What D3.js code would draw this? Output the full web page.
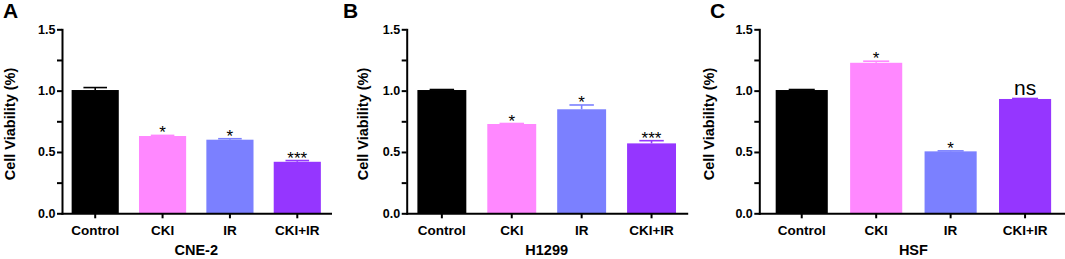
<!DOCTYPE html>
<html>
<head>
<meta charset="utf-8">
<script src="https://cdn.jsdelivr.net/npm/d3@7"></script>
<style>
  body { margin: 0; background: #fff; }
  svg { display: block; font-family: "Liberation Sans", Arial, sans-serif; }
</style>
</head>
<body>
<div id="chart"></div>
<script>
// Cell viability panels (A: CNE-2, B: H1299, C: HSF)

const groups = ["Control", "CKI", "IR", "CKI+IR"];
const barColors = ["#000000", "#ff88ff", "#7b80ff", "#9536ff"];
const yMajorTicks = [0, 0.5, 1.0, 1.5];
const yMinorTicks = [0.25, 0.75, 1.25];

const cneMean = [1.005, 0.63, 0.60, 0.42];
const cneErr = [0.02, 0.005, 0.008, 0.01];
const cneSig = ["", "*", "*", "***"];

const h1299Mean = [1.005, 0.728, 0.848, 0.57];
const h1299Err = [0.004, 0.004, 0.035, 0.022];
const h1299Sig = ["", "*", "*", "***"];

const hsfMean = [1.005, 1.227, 0.505, 0.932];
const hsfErr = [0.004, 0.013, 0.004, 0.004];
const hsfSig = ["", "*", "*", "ns"];

const panelLetters = ["A", "B", "C"];
const cellLines = ["CNE-2", "H1299", "HSF"];

const width = 1065, height = 259;
const yTop = 29.3, yBottom = 213.3;

const svg = d3.select("#chart").append("svg")
    .attr("width", width)
    .attr("height", height);

svg.append("rect").attr("width", width).attr("height", height).attr("fill", "#fff");

const panels = [
  { mean: cneMean, err: cneErr, sig: cneSig, x0: 62, x1: 330.5, pOuter: 0.143, letterX: 3, labelX: 15 },
  { mean: h1299Mean, err: h1299Err, sig: h1299Sig, x0: 406.7, x1: 686.7, pOuter: 0.153, letterX: 343, labelX: 368 },
  { mean: hsfMean, err: hsfErr, sig: hsfSig, x0: 759.3, x1: 1067.5, pOuter: 0.22, letterX: 710, labelX: 714 }
];

const yScale = d3.scaleLinear().domain([0, 1.5]).range([yBottom, yTop]);

panels.forEach(function (p, i) {
  const g = svg.append("g");

  const xScale = d3.scaleBand()
      .domain(groups)
      .range([p.x0, p.x1])
      .paddingInner(0.3)
      .paddingOuter(p.pOuter);

  const rows = groups.map((name, j) => ({ name: name, mean: p.mean[j], err: p.err[j], sig: p.sig[j], color: barColors[j] }));

  // bars
  g.selectAll(".bar")
    .data(rows)
    .enter()
    .append("rect")
    .attr("class", "bar")
    .attr("x", d => xScale(d.name))
    .attr("y", d => yScale(d.mean))
    .attr("width", xScale.bandwidth())
    .attr("height", d => yBottom - yScale(d.mean))
    .attr("fill", d => d.color);

  // error bars (upper only)
  const eb = g.selectAll(".err")
    .data(rows)
    .enter()
    .append("g")
    .attr("class", "err")
    .attr("stroke", d => d.color)
    .attr("stroke-width", 1.6);

  eb.append("line")
    .attr("x1", d => xScale(d.name) + xScale.bandwidth() / 2)
    .attr("x2", d => xScale(d.name) + xScale.bandwidth() / 2)
    .attr("y1", d => yScale(d.mean))
    .attr("y2", d => yScale(d.mean + d.err));

  eb.append("line")
    .attr("x1", d => xScale(d.name) + xScale.bandwidth() / 4)
    .attr("x2", d => xScale(d.name) + xScale.bandwidth() * 3 / 4)
    .attr("y1", d => yScale(d.mean + d.err))
    .attr("y2", d => yScale(d.mean + d.err));

  // significance marks
  g.selectAll(".sig")
    .data(rows.filter(d => d.sig))
    .enter()
    .append("text")
    .attr("class", "sig")
    .attr("x", d => xScale(d.name) + xScale.bandwidth() / 2)
    .attr("y", d => d.sig === "ns" ? yScale(d.mean + d.err) - 3 : yScale(d.mean + d.err) + 3)
    .attr("text-anchor", "middle")
    .attr("font-size", d => d.sig === "ns" ? "21px" : "17px")
    .text(d => d.sig);

  // y axis
  const yAxis = g.append("g")
    .attr("transform", "translate(" + p.x0 + ",0)")
    .call(d3.axisLeft(yScale).tickValues(yMajorTicks).tickFormat(d3.format(".1f")).tickSize(5).tickPadding(1.5).tickSizeOuter(0));

  g.append("g")
    .attr("transform", "translate(" + p.x0 + ",0)")
    .call(d3.axisLeft(yScale).tickValues(yMinorTicks).tickFormat("").tickSize(5).tickSizeOuter(0))
    .call(a => a.select(".domain").remove());

  // x axis
  const xAxis = g.append("g")
    .attr("transform", "translate(0," + yBottom + ")")
    .call(d3.axisBottom(xScale).tickSize(5).tickPadding(7).tickSizeOuter(0));

  g.selectAll(".domain, .tick line")
    .attr("stroke", "#000")
    .attr("stroke-width", 2);
  g.selectAll(".domain").attr("stroke-linecap", "square");

  yAxis.selectAll("text")
    .attr("font-size", "12.5px")
    .attr("font-weight", "bold")
    .attr("fill", "#000");

  xAxis.selectAll("text")
    .attr("font-size", "13.5px")
    .attr("font-weight", "bold")
    .attr("fill", "#000");

  // axis titles
  g.append("text")
    .attr("x", (p.x0 + p.x1) / 2)
    .attr("y", 255)
    .attr("text-anchor", "middle")
    .attr("font-size", "14.5px")
    .attr("font-weight", "bold")
    .text(cellLines[i]);

  g.append("text")
    .attr("transform", "translate(" + p.labelX + ",124) rotate(-90)")
    .attr("text-anchor", "middle")
    .attr("font-size", "14.5px")
    .attr("font-weight", "bold")
    .text("Cell Viability (%)");

  // panel letter
  g.append("text")
    .attr("x", p.letterX)
    .attr("y", 18)
    .attr("font-size", "21px")
    .attr("font-weight", "bold")
    .text(panelLetters[i]);
});
</script>
</body>
</html>
